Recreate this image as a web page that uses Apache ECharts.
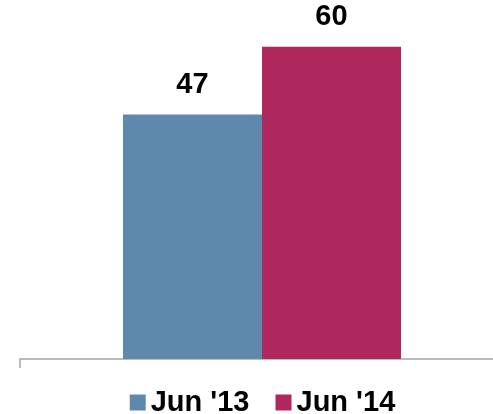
<!DOCTYPE html>
<html>
<head>
<meta charset="utf-8">
<script src="https://cdn.jsdelivr.net/npm/echarts@6/dist/echarts.min.js"></script>
<style>
  html, body { margin: 0; padding: 0; background: #fff; overflow: hidden; }
  #chart { width: 525px; height: 414px; }
</style>
</head>
<body>
<div id="chart"></div>
<script>
const categories = [''];
const seriesNames = ["Jun '13", "Jun '14"];
const seriesValues = [[47], [60]];
const seriesColors = ['#5E88AC', '#AE275D'];

const chart = echarts.init(document.getElementById('chart'));

const series = seriesNames.map(function (name, i) {
    return {
        name: name,
        type: 'bar',
        data: seriesValues[i],
        barWidth: 139,
        barGap: '0%',
        itemStyle: { color: seriesColors[i] },
        label: {
            show: true,
            position: 'top',
            distance: 15,
            fontFamily: 'Liberation Sans, Arial, sans-serif',
            fontWeight: 'bold',
            fontSize: 29,
            color: '#000'
        }
    };
});

chart.setOption({
    animation: false,
    grid: { left: 20, right: 21, top: 0, bottom: 55 },
    legend: {
        data: seriesNames,
        bottom: -8,
        left: 'center',
        itemWidth: 16,
        itemHeight: 16,
        itemGap: 26,
        icon: 'rect',
        textStyle: {
            fontFamily: 'Liberation Sans, Arial, sans-serif',
            fontWeight: 'bold',
            fontSize: 29,
            color: '#000'
        }
    },
    xAxis: {
        type: 'category',
        data: categories,
        axisLine: { lineStyle: { color: '#A6A6A6', width: 1.5 } },
        axisTick: { show: true, length: 9, lineStyle: { color: '#A6A6A6', width: 1.5 } },
        axisLabel: { show: false }
    },
    yAxis: {
        type: 'value',
        min: 0,
        max: 69,
        show: false,
        splitLine: { show: false }
    },
    series: series
});
</script>
</body>
</html>
